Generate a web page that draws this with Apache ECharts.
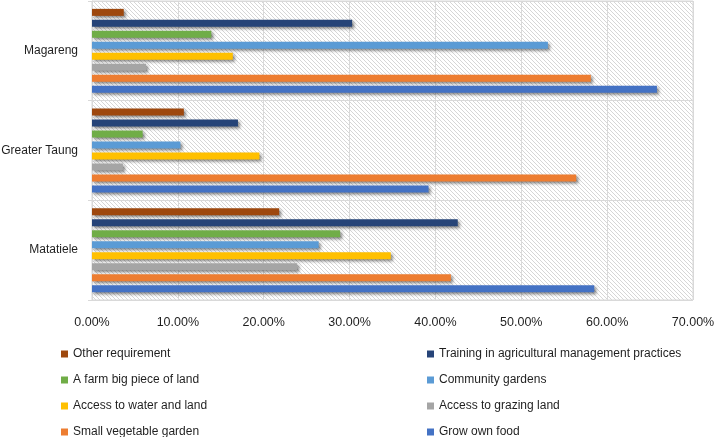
<!DOCTYPE html>
<html>
<head>
<meta charset="utf-8">
<script src="https://cdn.jsdelivr.net/npm/echarts@6/dist/echarts.min.js"></script>
<style>
  html, body { margin: 0; padding: 0; background: #fff; }
  #chart { width: 714px; height: 437px; }
</style>
</head>
<body>
<div id="chart"></div>
<script>
// categories listed bottom to top
const regions = ['Matatiele', 'Greater Taung', 'Magareng']
const xTicks = [0, 10, 20, 30, 40, 50, 60, 70]

// values in percent, same order as regions
const growOwnFood = [58.5, 39.2, 65.8]
const smallVegetableGarden = [41.8, 56.4, 58.1]
const accessToGrazingLand = [23.9, 3.6, 6.3]
const accessToWaterAndLand = [34.8, 19.5, 16.4]
const communityGardens = [26.4, 10.3, 53.1]
const farmBigPieceOfLand = [28.9, 5.9, 13.9]
const trainingPractices = [42.6, 17.0, 30.3]
const otherRequirement = [21.8, 10.7, 3.7]

// listed top bar first (echarts stacks series top-down in a horizontal band)
const seriesDefs = [
  ['Other requirement', otherRequirement, '#9E480E'],
  ['Training in agricultural management practices', trainingPractices, '#264478'],
  ['A farm big piece of land', farmBigPieceOfLand, '#70AD47'],
  ['Community gardens', communityGardens, '#5B9BD5'],
  ['Access to water and land', accessToWaterAndLand, '#FFC000'],
  ['Access to grazing land', accessToGrazingLand, '#A5A5A5'],
  ['Small vegetable garden', smallVegetableGarden, '#ED7D31'],
  ['Grow own food', growOwnFood, '#4472C4']
]

const leftLegend = ['Other requirement', 'A farm big piece of land', 'Access to water and land', 'Small vegetable garden']
const rightLegend = ['Training in agricultural management practices', 'Community gardens', 'Access to grazing land', 'Grow own food']

const FONT = '"Liberation Sans", Arial, sans-serif'
const TEXT = '#1f1f1f'

// diagonal hatch for the plot background
const hatch = document.createElement('canvas')
hatch.width = hatch.height = 4
const hctx = hatch.getContext('2d')
hctx.fillStyle = '#ffffff'
hctx.fillRect(0, 0, 4, 4)
hctx.fillStyle = '#d6d6d6'
for (let i = 0; i < 4; i++) hctx.fillRect(i, i, 1, 1)

const legendBase = {
  orient: 'vertical',
  top: 343,
  height: 100,
  itemWidth: 7,
  itemHeight: 7,
  itemGap: 14,
  icon: 'rect',
  textStyle: { fontFamily: FONT, fontSize: 12, color: TEXT }
}

const chart = echarts.init(document.getElementById('chart'))
chart.setOption({
  animation: false,
  grid: {
    left: 92, right: 21, top: 1, bottom: 137,
    outerBoundsMode: 'none',
    containLabel: false,
    show: true,
    backgroundColor: { image: hatch, repeat: 'repeat' },
    borderColor: '#d9d9d9',
    borderWidth: 1
  },
  legend: [
    Object.assign({ left: 56, data: leftLegend }, legendBase),
    Object.assign({ left: 422, data: rightLegend }, legendBase)
  ],
  xAxis: {
    type: 'value',
    min: xTicks[0],
    max: xTicks[xTicks.length - 1],
    interval: 10,
    axisLine: { show: false },
    axisTick: { show: false },
    splitLine: { lineStyle: { color: '#d9d9d9', width: 1 } },
    axisLabel: {
      margin: 16,
      fontFamily: FONT, fontSize: 12.5, color: TEXT,
      formatter: v => v.toFixed(2) + '%'
    }
  },
  yAxis: {
    type: 'category',
    data: regions,
    axisLine: { show: true, lineStyle: { color: '#d9d9d9' } },
    axisTick: { show: true, length: 4, lineStyle: { color: '#d9d9d9' } },
    splitLine: { show: true, lineStyle: { color: '#d9d9d9', width: 1 } },
    axisLabel: { margin: 14, fontFamily: FONT, fontSize: 12, color: TEXT }
  },
  series: seriesDefs.map(([name, data, color]) => ({
    name,
    type: 'bar',
    data,
    barWidth: 7,
    barGap: '57%',
    itemStyle: {
      color,
      shadowColor: 'rgba(0,0,0,0.45)',
      shadowBlur: 3,
      shadowOffsetX: 2,
      shadowOffsetY: 2
    }
  }))
})
</script>
</body>
</html>
